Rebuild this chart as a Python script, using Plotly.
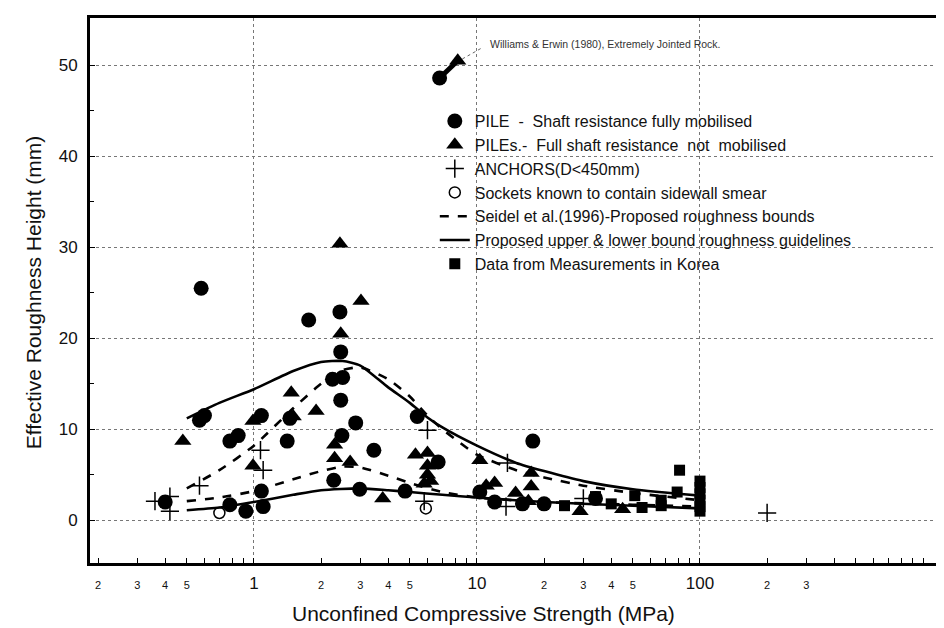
import numpy as np
import plotly.graph_objects as go

# ---------------- data ----------------
pile_full_x = [0.40, 0.58, 0.60, 0.57, 0.85, 0.78, 0.78, 0.92, 1.08, 1.08, 1.10, 1.45, 1.41, 1.76,
               2.43, 2.45, 2.25, 2.50, 2.45, 2.86, 2.48, 3.45, 2.28, 2.98, 4.76, 5.4, 6.7, 10.3,
               17.8, 6.8, 12.0, 16.0, 20.0, 34.0]
pile_full_y = [2.0, 25.5, 11.5, 11.0, 9.3, 8.7, 1.7, 1.0, 11.5, 3.2, 1.5, 11.2, 8.7, 22.0,
               22.9, 18.5, 15.5, 15.7, 13.2, 10.7, 9.3, 7.7, 4.4, 3.4, 3.2, 11.4, 6.4, 3.1,
               8.7, 48.6, 2.0, 1.8, 1.8, 2.4]

pile_part_x = [0.48, 0.99, 0.99, 1.47, 1.50, 1.90, 2.45, 2.43, 3.02, 2.30, 2.30, 2.70, 3.78, 8.2,
               5.3, 6.0, 6.0, 5.8, 6.2, 6.0, 10.3, 11.0, 12.0, 17.5, 17.5, 14.9, 17.0, 29.0, 45.0]
pile_part_y = [8.7, 10.9, 6.0, 14.0, 11.4, 12.0, 20.5, 30.4, 24.1, 8.3, 6.8, 6.4, 2.4, 50.5,
               7.2, 7.4, 6.0, 4.0, 4.3, 5.0, 6.6, 3.8, 4.1, 5.2, 3.7, 3.0, 2.1, 1.0, 1.2]

anchor_x = [0.36, 0.42, 0.42, 0.57, 1.07, 1.10, 6.0, 5.8, 13.7, 13.5, 30.0, 200.0]
anchor_y = [2.1, 2.6, 1.0, 3.8, 7.7, 5.5, 9.9, 2.1, 6.3, 1.5, 2.4, 0.8]

smear_x = [0.70, 5.9]
smear_y = [0.8, 1.3]

korea_x = [24.7, 34.0, 51.0, 67.0, 67.0, 79.0, 81.0, 100.0, 100.0, 100.0, 100.0, 100.0, 100.0, 40.0, 55.0]
korea_y = [1.6, 2.6, 2.7, 2.2, 1.6, 3.1, 5.5, 4.3, 3.6, 2.9, 2.2, 1.5, 1.0, 1.8, 1.4]

# Seidel et al. (1996) bounds (dashed)
seidel_up_x = [0.5, 0.7, 1, 1.5, 2, 2.5, 3, 4, 5, 6, 7, 8, 10, 15, 20, 30, 50, 100]
seidel_up_y = [3.5, 5.5, 8.2, 12.3, 15.0, 16.5, 16.8, 15.5, 13.6, 11.5, 10.0, 8.9, 7.2, 5.5, 4.7, 3.8, 3.0, 2.2]
seidel_lo_x = [0.5, 0.7, 1, 1.5, 2, 2.5, 3, 4, 5, 7, 10, 20, 50, 100]
seidel_lo_y = [2.1, 2.5, 3.2, 4.5, 5.4, 5.9, 5.8, 4.9, 4.1, 3.1, 2.5, 2.0, 1.7, 1.5]

# Proposed guidelines (solid)
prop_up_x = [0.5, 0.7, 1, 1.5, 2, 2.5, 3, 4, 5, 6, 7, 10, 15, 20, 30, 50, 100]
prop_up_y = [11.2, 12.9, 14.4, 16.4, 17.4, 17.5, 17.0, 14.6, 12.9, 11.3, 10.2, 8.2, 6.3, 5.4, 4.3, 3.4, 2.7]
prop_lo_x = [0.5, 0.7, 1, 1.5, 2, 3, 4, 5, 7, 10, 20, 50, 100]
prop_lo_y = [1.1, 1.4, 2.0, 2.8, 3.3, 3.5, 3.3, 3.1, 2.8, 2.5, 2.0, 1.6, 1.3]

# Williams & Erwin (1980) extremely jointed rock
williams_x = [6.8, 8.2]
williams_y = [48.6, 50.5]
leader_x = [8.6, 10.5]
leader_y = [50.7, 51.9]

x_tick_vals = [0.2, 0.3, 0.4, 0.5, 0.6, 0.7, 0.8, 0.9, 1, 2, 3, 4, 5, 6, 7, 8, 9, 10,
               20, 30, 40, 50, 60, 70, 80, 90, 100, 200, 300, 400, 500, 600, 700, 800, 900, 1000]
x_tick_text = ["2", "3", "4", "5", "", "", "", "", "1", "2", "3", "4", "5", "", "", "", "", "10",
               "2", "3", "4", "5", "", "", "", "", "100", "2", "3", "", "", "", "", "", "", ""]
big_labels = {"1", "10", "100"}
x_grid_vals = [1, 10, 100]

# ---------------- figure ----------------
FONT = "Liberation Sans, Arial, sans-serif"
fig = go.Figure()

def line(x, y, dash, rank, name=None, show=False):
    fig.add_trace(go.Scatter(x=x, y=y, mode="lines",
                             line=dict(color="black", width=2.6, dash=dash, shape="spline", smoothing=0.6),
                             name=name, showlegend=show, legendrank=rank, legendgroup=name or dash,
                             hoverinfo="skip"))

line(seidel_up_x, seidel_up_y, "dash", 5, "Seidel et al.(1996)-Proposed roughness bounds", True)
line(seidel_lo_x, seidel_lo_y, "dash", 5, "Seidel et al.(1996)-Proposed roughness bounds")
line(prop_up_x, prop_up_y, "solid", 6, "Proposed upper & lower bound roughness guidelines", True)
line(prop_lo_x, prop_lo_y, "solid", 6, "Proposed upper & lower bound roughness guidelines")

fig.add_trace(go.Scatter(x=williams_x, y=williams_y, mode="lines", line=dict(color="black", width=5),
                         showlegend=False, hoverinfo="skip"))
fig.add_trace(go.Scatter(x=leader_x, y=leader_y, mode="lines", line=dict(color="#666", width=1, dash="dot"),
                         showlegend=False, hoverinfo="skip"))

fig.add_trace(go.Scatter(x=korea_x, y=korea_y, mode="markers", name="Data from Measurements in Korea",
                         marker=dict(symbol="square", size=11, color="black"), legendrank=7))
fig.add_trace(go.Scatter(x=pile_full_x, y=pile_full_y, mode="markers",
                         name="PILE  -  Shaft resistance fully mobilised",
                         marker=dict(symbol="circle", size=15, color="black"), legendrank=1))
fig.add_trace(go.Scatter(x=pile_part_x, y=pile_part_y, mode="markers",
                         name="PILEs.-  Full shaft resistance  not  mobilised",
                         marker=dict(symbol="triangle-up", size=15, color="black"), legendrank=2))
fig.add_trace(go.Scatter(x=anchor_x, y=anchor_y, mode="markers", name="ANCHORS(D<450mm)",
                         marker=dict(symbol="cross-thin", size=13, color="black",
                                     line=dict(color="black", width=1.5)), legendrank=3))
fig.add_trace(go.Scatter(x=smear_x, y=smear_y, mode="markers", name="Sockets known to contain sidewall smear",
                         marker=dict(symbol="circle-open", size=11, color="black",
                                     line=dict(color="black", width=1.5)), legendrank=4))

ticktext = [t if (t in big_labels or t == "") else '<span style="font-size:11px">%s</span>' % t
            for t in x_tick_text]

fig.update_layout(
    width=944, height=628,
    margin=dict(l=82, r=0, t=10, b=73),
    paper_bgcolor="white", plot_bgcolor="white",
    font=dict(family=FONT, color="#111"),
    legend=dict(x=0.40, y=0.842, xanchor="left", yanchor="top", bgcolor="rgba(0,0,0,0)",
                font=dict(size=16, family=FONT, color="#111"), tracegroupgap=0, itemwidth=30),
    xaxis=dict(type="log", range=[-0.735, 3.13], tickvals=x_tick_vals, ticktext=ticktext,
               ticks="inside", ticklen=5, tickcolor="black", showgrid=False, zeroline=False,
               showline=True, linecolor="black", linewidth=3, mirror=True,
               tickfont=dict(size=17, family=FONT, color="#111"), ticklabelstandoff=3),
    xaxis2=dict(type="log", range=[-0.735, 3.13], overlaying="x", tickvals=x_grid_vals, showticklabels=False,
                ticks="", showgrid=True, gridcolor="#777", gridwidth=1, griddash="dot",
                showline=False, zeroline=False),
    yaxis=dict(range=[-4.7, 55.2], tickvals=[0, 10, 20, 30, 40, 50], ticks="inside", ticklen=5,
               tickcolor="black",
               minor=dict(tickvals=[5, 15, 25, 35, 45], ticks="inside", ticklen=4, tickcolor="black",
                          showgrid=False),
               showgrid=True, gridcolor="#777", gridwidth=1, griddash="dot", zeroline=False,
               showline=True, linecolor="black", linewidth=3,
               tickfont=dict(size=17, family=FONT, color="#111"), ticklabelstandoff=6),
    annotations=[
        dict(text="Unconfined Compressive Strength (MPa)", xref="paper", yref="paper", x=0.457, y=-0.093,
             xanchor="center", yanchor="middle", showarrow=False,
             font=dict(size=21, family=FONT, color="#111")),
        dict(text="Effective Roughness Height (mm)", xref="paper", yref="paper", x=-0.066, y=0.497,
             textangle=-90, xanchor="center", yanchor="middle", showarrow=False,
             font=dict(size=21, family=FONT, color="#111")),
        dict(text="Williams & Erwin (1980), Extremely Jointed Rock.", xref="x", yref="y",
             x=np.log10(11.2), y=52.3, xanchor="left", yanchor="middle", showarrow=False,
             font=dict(size=10.5, family=FONT, color="#333")),
    ],
)
# invisible trace that activates the overlaying axis carrying the decade gridlines
fig.add_trace(go.Scatter(x=[1], y=[None], xaxis="x2", showlegend=False, hoverinfo="skip"))

fig.write_html("out.html")
